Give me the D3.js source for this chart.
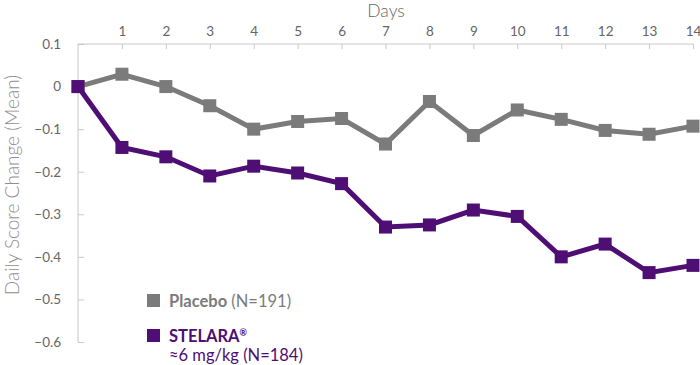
<!DOCTYPE html>
<html lang="en">
<head>
  <meta charset="UTF-8" />
  <title>Daily Score Change</title>
  <script src="https://d3js.org/d3.v7.min.js"></script>
  <style>
    body { margin: 0; background: #fff; overflow: hidden; }
    text { font-family: Lato, "Open Sans", sans-serif; }
  </style>
</head>
<body>
<svg width="700" height="365"></svg>
<script>
const days = d3.range(0, 15);
const dayTicks = d3.range(1, 15);
const yTicks = [0.1, 0, -0.1, -0.2, -0.3, -0.4, -0.5, -0.6];
const placebo = [0, 0.029, 0.0, -0.045, -0.1, -0.082, -0.075, -0.135, -0.035, -0.115, -0.055, -0.077, -0.103, -0.112, -0.093];
const stelara = [0, -0.143, -0.165, -0.21, -0.187, -0.203, -0.228, -0.33, -0.325, -0.29, -0.305, -0.4, -0.37, -0.437, -0.42];

const grey = "#7b7b7b", purple = "#4f0e74", axisCol = "#c8c8c8", labelCol = "#666";

const svg = d3.select("svg");
const x = d3.scaleLinear().domain([0, 14]).range([78, 693]);
const y = d3.scaleLinear().domain([0.1, -0.6]).range([44, 342]);

// top axis
const xAxis = svg.append("g").attr("transform", "translate(0,44)")
  .call(d3.axisBottom(x).tickValues(dayTicks).tickSize(5).tickFormat(d3.format("d")));
xAxis.select(".domain").attr("stroke", axisCol).attr("d", `M${x(0)},0H${x(14)}`);
xAxis.selectAll(".tick line").attr("stroke", axisCol);
xAxis.selectAll(".tick text").attr("y", -13).attr("dy", "0.35em")
  .attr("fill", labelCol).attr("font-size", 13.5);

svg.append("text").attr("x", 386).attr("y", 17).attr("text-anchor", "middle")
  .attr("fill", labelCol).attr("font-size", 17.5).attr("font-weight", 300).text("Days");

// left axis
const yAxis = svg.append("g").attr("transform", "translate(78,0)")
  .call(d3.axisRight(y).tickValues(yTicks).tickSize(6)
    .tickFormat(d => d === 0 ? "0" : d3.format(".1f")(d).replace("-", "\u2212")));
yAxis.select(".domain").attr("stroke", axisCol).attr("d", `M0,${y(0.1)}V${y(-0.6)}`);
yAxis.selectAll(".tick line").attr("stroke", axisCol);
yAxis.selectAll(".tick text").attr("x", -17).attr("text-anchor", "end")
  .attr("fill", labelCol).attr("font-size", 13.5);

svg.append("text").attr("transform", "translate(19,185) rotate(-90)")
  .attr("text-anchor", "middle").attr("fill", "#909090").attr("font-size", 19)
  .attr("font-weight", 300).text("Daily Score Change (Mean)");

// series
const series = [
  { vals: placebo, color: grey },
  { vals: stelara, color: purple }
];
const line = d3.line().x((d, i) => x(days[i])).y(d => y(d));
const ms = 13;
series.forEach(s => {
  svg.append("path").datum(s.vals).attr("d", line)
    .attr("fill", "none").attr("stroke", s.color).attr("stroke-width", 5)
    .attr("stroke-linejoin", "miter");
  svg.append("g").selectAll("rect").data(s.vals).join("rect")
    .attr("x", (d, i) => x(days[i]) - ms / 2).attr("y", d => y(d) - ms / 2)
    .attr("width", ms).attr("height", ms).attr("fill", s.color);
});

// legend
const lg = svg.append("g");
lg.append("rect").attr("x", 147).attr("y", 294).attr("width", 13).attr("height", 13).attr("fill", grey);
const t1 = lg.append("text").attr("x", 169).attr("y", 307).attr("font-size", 16.5).attr("fill", grey);
t1.append("tspan").attr("font-weight", "bold").text("Placebo");
t1.append("tspan").text(" (N=191)");

lg.append("rect").attr("x", 147).attr("y", 329).attr("width", 13).attr("height", 13).attr("fill", purple);
const t2 = lg.append("text").attr("x", 169).attr("y", 342).attr("font-size", 16.5).attr("fill", purple);
t2.append("tspan").attr("font-weight", "bold").text("STELARA");
t2.append("tspan").attr("font-weight", "bold").attr("font-size", 9).attr("dy", -6).text("®");
lg.append("text").attr("x", 169).attr("y", 361).attr("font-size", 16.5).attr("fill", purple)
  .text("≈6 mg/kg (N=184)");
</script>
</body>
</html>
